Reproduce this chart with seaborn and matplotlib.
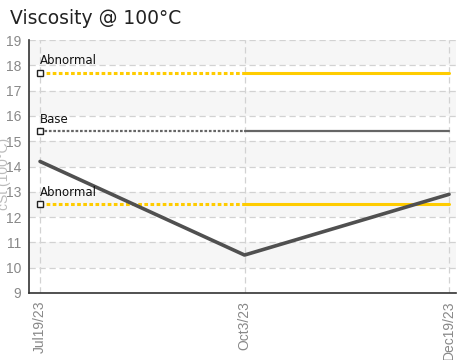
import numpy as np
import pandas as pd
import matplotlib.pyplot as plt
import seaborn as sns

# data
dates = ['Jul19/23', 'Oct3/23', 'Dec19/23']
visc = [14.2, 10.5, 12.9]
limit_names = ['Abnormal', 'Base', 'Abnormal']
limit_vals = [17.7, 15.4, 12.5]
limit_colors = ['#ffcc00', '#666666', '#ffcc00']

sns.set_style('white')
plt.rcParams['font.family'] = ['DejaVu Sans']
NARROW = ['Liberation Sans Narrow', 'Liberation Sans', 'DejaVu Sans']

fig = plt.figure(figsize=(4.58, 3.6), dpi=100)
ax = fig.add_axes([29 / 458, 1 - 293 / 360, (456 - 29) / 458, (293 - 40) / 360])

xpos = np.arange(len(dates))

# alternating bands
for lo in range(10, 19, 2):
    ax.axhspan(lo, lo + 1, color='#f6f6f6', zorder=0, lw=0)

# limit lines: dotted on first segment, solid after
for name, v, c in zip(limit_names, limit_vals, limit_colors):
    seg1 = pd.DataFrame({'x': xpos[:2], 'y': [v, v]})
    seg2 = pd.DataFrame({'x': xpos[1:], 'y': [v, v]})
    lw = 2.2 if c != '#666666' else 1.6
    sns.lineplot(data=seg1, x='x', y='y', ax=ax, color=c, lw=lw,
                 linestyle=(0, (1.2, 0.8)), zorder=3)
    sns.lineplot(data=seg2, x='x', y='y', ax=ax, color=c, lw=lw, zorder=3)
    ax.plot(xpos[0], v, marker='s', ms=4.5, mfc='white', mec='#222222',
            mew=1.0, zorder=6, clip_on=False)
    ax.text(xpos[0], v + 0.22, name, fontsize=8.5, color='#111111',
            ha='left', va='bottom', zorder=6)

df = pd.DataFrame({'x': xpos, 'visc': visc})
sns.lineplot(data=df, x='x', y='visc', ax=ax, color='#505050', lw=2.6, zorder=5)

ax.set_xlim(-0.054, 2.034)
ax.set_ylim(9, 19)
ax.set_yticks(range(9, 20))
ax.set_xticks(xpos)
ax.set_xticklabels(dates, rotation=90)
ax.tick_params(axis='both', colors='#888888', labelsize=10, length=4,
               direction='inout', width=1)
ax.tick_params(axis='both', color='#333333')
for lab in ax.get_xticklabels() + ax.get_yticklabels():
    lab.set_family(NARROW)
ax.grid(True, color='#d2d2d2', linestyle=(0, (5, 3)), lw=0.9)
ax.set_axisbelow(True)
for s in ['top', 'right']:
    ax.spines[s].set_visible(False)
for s in ['left', 'bottom']:
    ax.spines[s].set_color('#333333')
    ax.spines[s].set_linewidth(1.2)
ax.set_xlabel('')
ax.set_ylabel('cSt (100°C)', color='#bbbbbb', fontsize=10, family=NARROW,
              va='center')
ax.yaxis.set_label_coords(-0.058, 0.47)

fig.text(10 / 458, 1 - 18 / 360, 'Viscosity @ 100°C', fontsize=13.5,
         color='#222222', ha='left', va='center')

fig.savefig('out.png', dpi=100)
plt.close()
